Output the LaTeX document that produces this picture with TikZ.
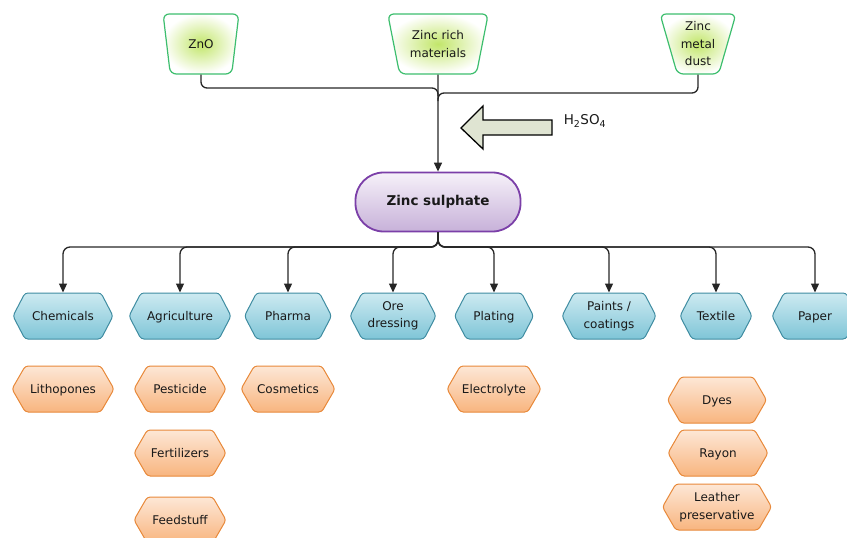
\documentclass[tikz,border=0pt]{standalone}
\usepackage{fontspec}
\setmainfont{DejaVu Sans}
\usetikzlibrary{shapes.geometric,shapes.symbols,arrows.meta}
\definecolor{srcline}{HTML}{3DBE6E}
\definecolor{srcin}{HTML}{C2E66A}
\definecolor{catline}{HTML}{3F8CA1}
\definecolor{cattop}{HTML}{CDEAF1}
\definecolor{catbot}{HTML}{7FC5D7}
\definecolor{prodline}{HTML}{E8893A}
\definecolor{prodtop}{HTML}{FDE7D6}
\definecolor{prodbot}{HTML}{F8B57F}
\definecolor{mainline}{HTML}{7B3FA8}
\definecolor{maintop}{HTML}{F6F1F9}
\definecolor{mainbot}{HTML}{C7B1D9}
\definecolor{acidfill}{HTML}{DFE4D2}
\begin{document}
\begin{tikzpicture}[x=1pt,y=-1pt,font=\fontsize{12}{17.5}\selectfont,text=black!90,
 src/.style={trapezium,trapezium angle=72,trapezium stretches=true,shape border rotate=180,draw=srcline,line width=1.2pt,rounded corners=6pt,inner color=srcin,outer color=white,minimum width=76pt,minimum height=60pt,align=center,inner sep=0pt},
 cat/.style={signal,signal to=west and east,signal pointer angle=125,draw=catline,line width=1pt,rounded corners=3pt,top color=cattop,bottom color=catbot,minimum height=46pt,align=center,inner sep=1pt,text height=10pt,text depth=1pt},
 prod/.style={signal,signal to=west and east,signal pointer angle=120,draw=prodline,line width=1pt,rounded corners=3pt,top color=prodtop,bottom color=prodbot,minimum height=46pt,align=center,inner sep=1pt,text height=10pt,text depth=1pt},
 two/.style={text height={},text depth={}},
 main/.style={draw=mainline,line width=1.8pt,rounded corners=28pt,top color=maintop,bottom color=mainbot,minimum width=165pt,minimum height=59pt,font=\fontsize{13.5}{16}\selectfont\bfseries},
 conn/.style={draw=black!85,line width=1.3pt},
 arr/.style={conn,-{Triangle[length=9pt,width=8pt]}}]
\useasboundingbox (0,0) rectangle (847,538);
\node[src] (zno) at (201,44) {ZnO};
\node[src,minimum width=101pt] (rich) at (438,44) {Zinc rich\\materials};
\node[src] (metal) at (698,44) {Zinc\\metal\\dust};
\node[main] (sulph) at (438,202) {Zinc sulphate};
\node[font=\fontsize{13.5}{16}\selectfont] (acid) at (585,121) {H\textsubscript{2}SO\textsubscript{4}};
\draw[line width=1.3pt,fill=acidfill,miter limit=20] (461,128)--(483,106)--(483,120)--(552,120)--(552,135)--(483,135)--(483,149)--cycle;
\coordinate (topl) at (0,88);
\coordinate (topr) at (0,93);
\coordinate (bus) at (0,247);
\draw[conn,rounded corners=6pt] (zno.south) |- (rich.south |- topl) -- ++(0,8);
\draw[conn,rounded corners=6pt] (metal.south) |- (rich.south |- topr) -- ++(0,8);
\draw[arr] (rich.south) -- (sulph.north);
\node[cat,minimum width=100pt] (chem) at (63,316) {Chemicals};
\node[cat,minimum width=102pt] (agri) at (180,316) {Agriculture};
\node[cat,minimum width=87pt] (pharma) at (288,316) {Pharma};
\node[cat,two,minimum width=86pt] (ore) at (393,316) {Ore\\dressing};
\node[cat,minimum width=79pt] (plat) at (494,316) {Plating};
\node[cat,two,minimum width=94pt] (paint) at (609,316) {Paints /\\coatings};
\node[cat,minimum width=72pt] (text) at (716,316) {Textile};
\node[cat,minimum width=86pt] (paper) at (815,316) {Paper};
\foreach \c in {chem,agri,pharma,ore,plat,paint,text,paper}
 \draw[arr,rounded corners=7pt] (sulph.south) |- (\c.north |- bus) -- (\c.north);
\node[prod,minimum width=102pt] (litho) at (63,389) {Lithopones};
\node[prod,minimum width=92pt] (pest) at (180,389) {Pesticide};
\node[prod,minimum width=92pt] (fert) at (180,453) {Fertilizers};
\node[prod,minimum width=92pt] (feed) at (180,520) {Feedstuff};
\node[prod,minimum width=94pt] (cosm) at (288,389) {Cosmetics};
\node[prod,minimum width=94pt] (elec) at (494,389) {Electrolyte};
\node[prod,minimum width=99pt] (dyes) at (717,400) {Dyes};
\node[prod,minimum width=100pt] (rayon) at (718,453) {Rayon};
\node[prod,two,minimum width=109pt] (leath) at (717,507) {Leather\\preservative};
\end{tikzpicture}
\end{document}
